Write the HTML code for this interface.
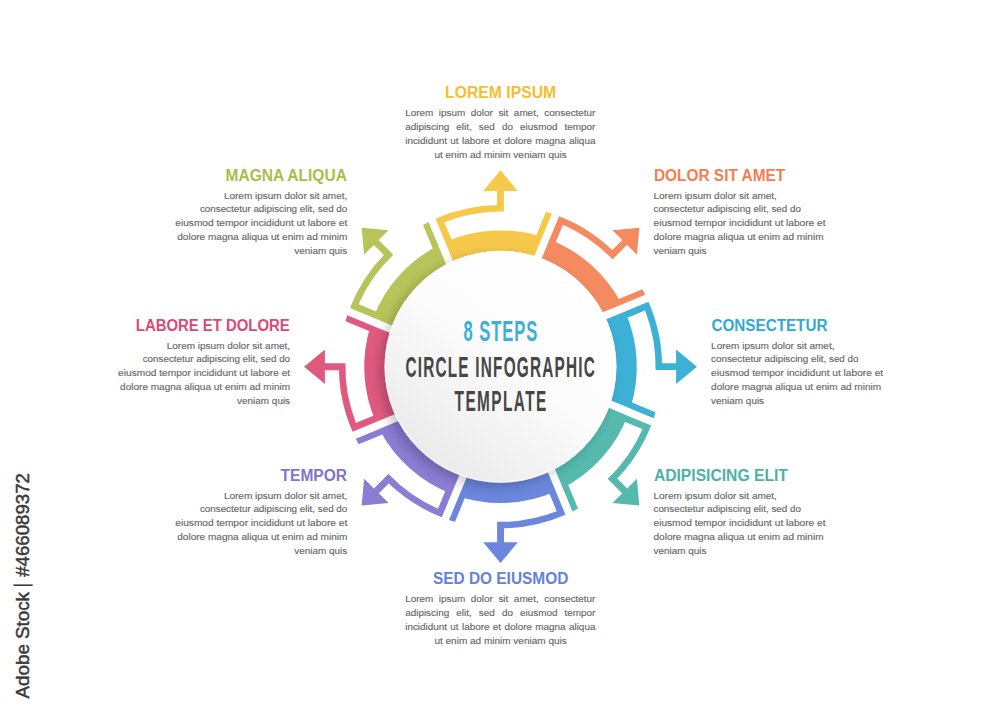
<!DOCTYPE html>
<html><head><meta charset="utf-8"><style>html,body{margin:0;padding:0;background:#fff;}svg{display:block;}text.b{fill:#676767;stroke:#676767;stroke-width:0.15px;}</style></head>
<body>
<svg width="1000" height="714" viewBox="0 0 1000 714" font-family="'Liberation Sans', sans-serif">
<defs>
<linearGradient id="dg" x1="0.8" y1="0.1" x2="0.2" y2="0.9">
<stop offset="0" stop-color="#ffffff"/><stop offset="0.45" stop-color="#fcfcfc"/><stop offset="1" stop-color="#ebebeb"/>
</linearGradient>
<filter id="sh" x="-30%" y="-30%" width="160%" height="160%">
<feGaussianBlur in="SourceAlpha" stdDeviation="6"/>
<feOffset dx="-5" dy="3.5" result="o"/>
<feComponentTransfer><feFuncA type="linear" slope="0.22"/></feComponentTransfer>
<feMerge><feMergeNode/><feMergeNode in="SourceGraphic"/></feMerge>
</filter>
</defs>
<rect width="1000" height="714" fill="#ffffff"/>
<path transform="rotate(0 500.5 366.7)" fill="#F6C94B" d="M445.22 242.12A136.3 136.3 0 0 1 542.23 236.95L531.36 263.2A108 108 0 0 0 456.05 268.27ZM445.98 243.96L435.53 218.74L443.92 221.22L452.26 241.36ZM535.48 237.04L546 211.64A161.6 161.6 0 0 1 551.94 213.51L541.46 238.8ZM435.53 218.74A161.6 161.6 0 0 1 503.9 205.14L503.9 211.64A155.1 155.1 0 0 0 444.3 222.14ZM497 206.1L497 190.6L503.9 190.6L503.9 211.1ZM483.2 191.1L500.5 170.3L517.8 191.1Z"/>
<path transform="rotate(45 500.5 366.7)" fill="#F48A60" d="M445.22 242.12A136.3 136.3 0 0 1 542.23 236.95L531.36 263.2A108 108 0 0 0 456.05 268.27ZM445.98 243.96L435.53 218.74L443.92 221.22L452.26 241.36ZM535.48 237.04L546 211.64A161.6 161.6 0 0 1 551.94 213.51L541.46 238.8ZM435.53 218.74A161.6 161.6 0 0 1 503.9 205.14L503.9 211.64A155.1 155.1 0 0 0 444.3 222.14ZM497 206.1L497 190.6L503.9 190.6L503.9 211.1ZM483.2 191.1L500.5 170.3L517.8 191.1Z"/>
<path transform="rotate(90 500.5 366.7)" fill="#3DB0D5" d="M445.22 242.12A136.3 136.3 0 0 1 542.23 236.95L531.36 263.2A108 108 0 0 0 456.05 268.27ZM445.98 243.96L435.53 218.74L443.92 221.22L452.26 241.36ZM535.48 237.04L546 211.64A161.6 161.6 0 0 1 551.94 213.51L541.46 238.8ZM435.53 218.74A161.6 161.6 0 0 1 503.9 205.14L503.9 211.64A155.1 155.1 0 0 0 444.3 222.14ZM497 206.1L497 190.6L503.9 190.6L503.9 211.1ZM483.2 191.1L500.5 170.3L517.8 191.1Z"/>
<path transform="rotate(135 500.5 366.7)" fill="#55B9AD" d="M445.22 242.12A136.3 136.3 0 0 1 542.23 236.95L531.36 263.2A108 108 0 0 0 456.05 268.27ZM445.98 243.96L435.53 218.74L443.92 221.22L452.26 241.36ZM535.48 237.04L546 211.64A161.6 161.6 0 0 1 551.94 213.51L541.46 238.8ZM435.53 218.74A161.6 161.6 0 0 1 503.9 205.14L503.9 211.64A155.1 155.1 0 0 0 444.3 222.14ZM497 206.1L497 190.6L503.9 190.6L503.9 211.1ZM483.2 191.1L500.5 170.3L517.8 191.1Z"/>
<path transform="rotate(180 500.5 366.7)" fill="#6B86DC" d="M445.22 242.12A136.3 136.3 0 0 1 542.23 236.95L531.36 263.2A108 108 0 0 0 456.05 268.27ZM445.98 243.96L435.53 218.74L443.92 221.22L452.26 241.36ZM535.48 237.04L546 211.64A161.6 161.6 0 0 1 551.94 213.51L541.46 238.8ZM435.53 218.74A161.6 161.6 0 0 1 503.9 205.14L503.9 211.64A155.1 155.1 0 0 0 444.3 222.14ZM497 206.1L497 190.6L503.9 190.6L503.9 211.1ZM483.2 191.1L500.5 170.3L517.8 191.1Z"/>
<path transform="rotate(225 500.5 366.7)" fill="#8A7DD5" d="M445.22 242.12A136.3 136.3 0 0 1 542.23 236.95L531.36 263.2A108 108 0 0 0 456.05 268.27ZM445.98 243.96L435.53 218.74L443.92 221.22L452.26 241.36ZM535.48 237.04L546 211.64A161.6 161.6 0 0 1 551.94 213.51L541.46 238.8ZM435.53 218.74A161.6 161.6 0 0 1 503.9 205.14L503.9 211.64A155.1 155.1 0 0 0 444.3 222.14ZM497 206.1L497 190.6L503.9 190.6L503.9 211.1ZM483.2 191.1L500.5 170.3L517.8 191.1Z"/>
<path transform="rotate(270 500.5 366.7)" fill="#E05A80" d="M445.22 242.12A136.3 136.3 0 0 1 542.23 236.95L531.36 263.2A108 108 0 0 0 456.05 268.27ZM445.98 243.96L435.53 218.74L443.92 221.22L452.26 241.36ZM535.48 237.04L546 211.64A161.6 161.6 0 0 1 551.94 213.51L541.46 238.8ZM435.53 218.74A161.6 161.6 0 0 1 503.9 205.14L503.9 211.64A155.1 155.1 0 0 0 444.3 222.14ZM497 206.1L497 190.6L503.9 190.6L503.9 211.1ZM483.2 191.1L500.5 170.3L517.8 191.1Z"/>
<path transform="rotate(315 500.5 366.7)" fill="#B8C45A" d="M445.22 242.12A136.3 136.3 0 0 1 542.23 236.95L531.36 263.2A108 108 0 0 0 456.05 268.27ZM445.98 243.96L435.53 218.74L443.92 221.22L452.26 241.36ZM535.48 237.04L546 211.64A161.6 161.6 0 0 1 551.94 213.51L541.46 238.8ZM435.53 218.74A161.6 161.6 0 0 1 503.9 205.14L503.9 211.64A155.1 155.1 0 0 0 444.3 222.14ZM497 206.1L497 190.6L503.9 190.6L503.9 211.1ZM483.2 191.1L500.5 170.3L517.8 191.1Z"/>
<circle cx="500.5" cy="366.7" r="116" fill="url(#dg)" filter="url(#sh)"/>
<circle cx="500.5" cy="366.7" r="115.3" fill="none" stroke="#ffffff" stroke-opacity="0.55" stroke-width="1"/>
<g transform="translate(463.6 0) scale(0.56 1)"><text x="0" y="341" textLength="131.43" lengthAdjust="spacing" font-size="29.5" font-weight="bold" fill="#3DB0D5">8 STEPS</text></g>
<g transform="translate(405.4 0) scale(0.535 1)"><text x="0" y="376.7" textLength="354.21" lengthAdjust="spacing" font-size="28.7" font-weight="bold" fill="#464646">CIRCLE INFOGRAPHIC</text></g>
<g transform="translate(454.6 0) scale(0.535 1)"><text x="0" y="411.4" textLength="171.21" lengthAdjust="spacing" font-size="28.7" font-weight="bold" fill="#464646">TEMPLATE</text></g>
<text x="445.05" y="97.8" textLength="111.1" lengthAdjust="spacingAndGlyphs" font-size="16" font-weight="bold" fill="#F3BE30">LOREM IPSUM</text>
<text x="405.2" y="115.7" textLength="28.06" lengthAdjust="spacingAndGlyphs" font-size="9.6" class="b">Lorem</text>
<text x="438.84" y="115.7" textLength="26.41" lengthAdjust="spacingAndGlyphs" font-size="9.6" class="b">ipsum</text>
<text x="470.82" y="115.7" textLength="22.01" lengthAdjust="spacingAndGlyphs" font-size="9.6" class="b">dolor</text>
<text x="498.41" y="115.7" textLength="9.9" lengthAdjust="spacingAndGlyphs" font-size="9.6" class="b">sit</text>
<text x="513.89" y="115.7" textLength="24.76" lengthAdjust="spacingAndGlyphs" font-size="9.6" class="b">amet,</text>
<text x="544.22" y="115.7" textLength="51.18" lengthAdjust="spacingAndGlyphs" font-size="9.6" class="b">consectetur</text>
<text x="405.2" y="129.67" textLength="44.03" lengthAdjust="spacingAndGlyphs" font-size="9.6" class="b">adipiscing</text>
<text x="456.34" y="129.67" textLength="15.41" lengthAdjust="spacingAndGlyphs" font-size="9.6" class="b">elit,</text>
<text x="478.86" y="129.67" textLength="15.96" lengthAdjust="spacingAndGlyphs" font-size="9.6" class="b">sed</text>
<text x="501.93" y="129.67" textLength="11.01" lengthAdjust="spacingAndGlyphs" font-size="9.6" class="b">do</text>
<text x="520.06" y="129.67" textLength="37.42" lengthAdjust="spacingAndGlyphs" font-size="9.6" class="b">eiusmod</text>
<text x="564.59" y="129.67" textLength="30.81" lengthAdjust="spacingAndGlyphs" font-size="9.6" class="b">tempor</text>
<text x="405.2" y="143.64" textLength="41.83" lengthAdjust="spacingAndGlyphs" font-size="9.6" class="b">incididunt</text>
<text x="450.38" y="143.64" textLength="8.26" lengthAdjust="spacingAndGlyphs" font-size="9.6" class="b">ut</text>
<text x="461.99" y="143.64" textLength="27.52" lengthAdjust="spacingAndGlyphs" font-size="9.6" class="b">labore</text>
<text x="492.87" y="143.64" textLength="8.26" lengthAdjust="spacingAndGlyphs" font-size="9.6" class="b">et</text>
<text x="504.48" y="143.64" textLength="27.52" lengthAdjust="spacingAndGlyphs" font-size="9.6" class="b">dolore</text>
<text x="535.35" y="143.64" textLength="30.27" lengthAdjust="spacingAndGlyphs" font-size="9.6" class="b">magna</text>
<text x="568.98" y="143.64" textLength="26.42" lengthAdjust="spacingAndGlyphs" font-size="9.6" class="b">aliqua</text>
<text x="434.45" y="157.61" textLength="132.3" lengthAdjust="spacingAndGlyphs" font-size="9.6" class="b">ut enim ad minim veniam quis</text>
<text x="432.9" y="584" textLength="135.4" lengthAdjust="spacingAndGlyphs" font-size="16" font-weight="bold" fill="#6481D9">SED DO EIUSMOD</text>
<text x="405.2" y="601.9" textLength="28.06" lengthAdjust="spacingAndGlyphs" font-size="9.6" class="b">Lorem</text>
<text x="438.84" y="601.9" textLength="26.41" lengthAdjust="spacingAndGlyphs" font-size="9.6" class="b">ipsum</text>
<text x="470.82" y="601.9" textLength="22.01" lengthAdjust="spacingAndGlyphs" font-size="9.6" class="b">dolor</text>
<text x="498.41" y="601.9" textLength="9.9" lengthAdjust="spacingAndGlyphs" font-size="9.6" class="b">sit</text>
<text x="513.89" y="601.9" textLength="24.76" lengthAdjust="spacingAndGlyphs" font-size="9.6" class="b">amet,</text>
<text x="544.22" y="601.9" textLength="51.18" lengthAdjust="spacingAndGlyphs" font-size="9.6" class="b">consectetur</text>
<text x="405.2" y="615.87" textLength="44.03" lengthAdjust="spacingAndGlyphs" font-size="9.6" class="b">adipiscing</text>
<text x="456.34" y="615.87" textLength="15.41" lengthAdjust="spacingAndGlyphs" font-size="9.6" class="b">elit,</text>
<text x="478.86" y="615.87" textLength="15.96" lengthAdjust="spacingAndGlyphs" font-size="9.6" class="b">sed</text>
<text x="501.93" y="615.87" textLength="11.01" lengthAdjust="spacingAndGlyphs" font-size="9.6" class="b">do</text>
<text x="520.06" y="615.87" textLength="37.42" lengthAdjust="spacingAndGlyphs" font-size="9.6" class="b">eiusmod</text>
<text x="564.59" y="615.87" textLength="30.81" lengthAdjust="spacingAndGlyphs" font-size="9.6" class="b">tempor</text>
<text x="405.2" y="629.84" textLength="41.83" lengthAdjust="spacingAndGlyphs" font-size="9.6" class="b">incididunt</text>
<text x="450.38" y="629.84" textLength="8.26" lengthAdjust="spacingAndGlyphs" font-size="9.6" class="b">ut</text>
<text x="461.99" y="629.84" textLength="27.52" lengthAdjust="spacingAndGlyphs" font-size="9.6" class="b">labore</text>
<text x="492.87" y="629.84" textLength="8.26" lengthAdjust="spacingAndGlyphs" font-size="9.6" class="b">et</text>
<text x="504.48" y="629.84" textLength="27.52" lengthAdjust="spacingAndGlyphs" font-size="9.6" class="b">dolore</text>
<text x="535.35" y="629.84" textLength="30.27" lengthAdjust="spacingAndGlyphs" font-size="9.6" class="b">magna</text>
<text x="568.98" y="629.84" textLength="26.42" lengthAdjust="spacingAndGlyphs" font-size="9.6" class="b">aliqua</text>
<text x="434.45" y="643.81" textLength="132.3" lengthAdjust="spacingAndGlyphs" font-size="9.6" class="b">ut enim ad minim veniam quis</text>
<text x="653.9" y="180.5" textLength="131.4" lengthAdjust="spacingAndGlyphs" font-size="16" font-weight="bold" fill="#F27E52">DOLOR SIT AMET</text>
<text x="653.5" y="198.5" textLength="123.4" lengthAdjust="spacingAndGlyphs" font-size="9.6" class="b">Lorem ipsum dolor sit amet,</text>
<text x="653.5" y="212.47" textLength="147.4" lengthAdjust="spacingAndGlyphs" font-size="9.6" class="b">consectetur adipiscing elit, sed do</text>
<text x="653.5" y="226.44" textLength="172" lengthAdjust="spacingAndGlyphs" font-size="9.6" class="b">eiusmod tempor incididunt ut labore et</text>
<text x="653.5" y="240.41" textLength="170" lengthAdjust="spacingAndGlyphs" font-size="9.6" class="b">dolore magna aliqua ut enim ad minim</text>
<text x="653.5" y="254.38" textLength="53" lengthAdjust="spacingAndGlyphs" font-size="9.6" class="b">veniam quis</text>
<text x="711.5" y="330.5" textLength="115.9" lengthAdjust="spacingAndGlyphs" font-size="16" font-weight="bold" fill="#33A8D4">CONSECTETUR</text>
<text x="711.1" y="348.5" textLength="123.4" lengthAdjust="spacingAndGlyphs" font-size="9.6" class="b">Lorem ipsum dolor sit amet,</text>
<text x="711.1" y="362.47" textLength="147.4" lengthAdjust="spacingAndGlyphs" font-size="9.6" class="b">consectetur adipiscing elit, sed do</text>
<text x="711.1" y="376.44" textLength="172" lengthAdjust="spacingAndGlyphs" font-size="9.6" class="b">eiusmod tempor incididunt ut labore et</text>
<text x="711.1" y="390.41" textLength="170" lengthAdjust="spacingAndGlyphs" font-size="9.6" class="b">dolore magna aliqua ut enim ad minim</text>
<text x="711.1" y="404.38" textLength="53" lengthAdjust="spacingAndGlyphs" font-size="9.6" class="b">veniam quis</text>
<text x="653.9" y="480.5" textLength="134" lengthAdjust="spacingAndGlyphs" font-size="16" font-weight="bold" fill="#4AB3A6">ADIPISICING ELIT</text>
<text x="653.5" y="498.5" textLength="123.4" lengthAdjust="spacingAndGlyphs" font-size="9.6" class="b">Lorem ipsum dolor sit amet,</text>
<text x="653.5" y="512.47" textLength="147.4" lengthAdjust="spacingAndGlyphs" font-size="9.6" class="b">consectetur adipiscing elit, sed do</text>
<text x="653.5" y="526.44" textLength="172" lengthAdjust="spacingAndGlyphs" font-size="9.6" class="b">eiusmod tempor incididunt ut labore et</text>
<text x="653.5" y="540.41" textLength="170" lengthAdjust="spacingAndGlyphs" font-size="9.6" class="b">dolore magna aliqua ut enim ad minim</text>
<text x="653.5" y="554.38" textLength="53" lengthAdjust="spacingAndGlyphs" font-size="9.6" class="b">veniam quis</text>
<text x="225.5" y="180.5" textLength="121.4" lengthAdjust="spacingAndGlyphs" font-size="16" font-weight="bold" fill="#ADBB48">MAGNA ALIQUA</text>
<text x="223.9" y="198.5" textLength="123.4" lengthAdjust="spacingAndGlyphs" font-size="9.6" class="b">Lorem ipsum dolor sit amet,</text>
<text x="199.9" y="212.47" textLength="147.4" lengthAdjust="spacingAndGlyphs" font-size="9.6" class="b">consectetur adipiscing elit, sed do</text>
<text x="175.3" y="226.44" textLength="172" lengthAdjust="spacingAndGlyphs" font-size="9.6" class="b">eiusmod tempor incididunt ut labore et</text>
<text x="177.3" y="240.41" textLength="170" lengthAdjust="spacingAndGlyphs" font-size="9.6" class="b">dolore magna aliqua ut enim ad minim</text>
<text x="294.3" y="254.38" textLength="53" lengthAdjust="spacingAndGlyphs" font-size="9.6" class="b">veniam quis</text>
<text x="135.8" y="330.5" textLength="153.9" lengthAdjust="spacingAndGlyphs" font-size="16" font-weight="bold" fill="#DB4A76">LABORE ET DOLORE</text>
<text x="166.7" y="348.5" textLength="123.4" lengthAdjust="spacingAndGlyphs" font-size="9.6" class="b">Lorem ipsum dolor sit amet,</text>
<text x="142.7" y="362.47" textLength="147.4" lengthAdjust="spacingAndGlyphs" font-size="9.6" class="b">consectetur adipiscing elit, sed do</text>
<text x="118.1" y="376.44" textLength="172" lengthAdjust="spacingAndGlyphs" font-size="9.6" class="b">eiusmod tempor incididunt ut labore et</text>
<text x="120.1" y="390.41" textLength="170" lengthAdjust="spacingAndGlyphs" font-size="9.6" class="b">dolore magna aliqua ut enim ad minim</text>
<text x="237.1" y="404.38" textLength="53" lengthAdjust="spacingAndGlyphs" font-size="9.6" class="b">veniam quis</text>
<text x="280.6" y="480.5" textLength="66.3" lengthAdjust="spacingAndGlyphs" font-size="16" font-weight="bold" fill="#8174CD">TEMPOR</text>
<text x="223.9" y="498.5" textLength="123.4" lengthAdjust="spacingAndGlyphs" font-size="9.6" class="b">Lorem ipsum dolor sit amet,</text>
<text x="199.9" y="512.47" textLength="147.4" lengthAdjust="spacingAndGlyphs" font-size="9.6" class="b">consectetur adipiscing elit, sed do</text>
<text x="175.3" y="526.44" textLength="172" lengthAdjust="spacingAndGlyphs" font-size="9.6" class="b">eiusmod tempor incididunt ut labore et</text>
<text x="177.3" y="540.41" textLength="170" lengthAdjust="spacingAndGlyphs" font-size="9.6" class="b">dolore magna aliqua ut enim ad minim</text>
<text x="294.3" y="554.38" textLength="53" lengthAdjust="spacingAndGlyphs" font-size="9.6" class="b">veniam quis</text>
<g transform="translate(28.6 698.6) rotate(-90)" font-size="18.5" fill="#3a3a3a" stroke="#3a3a3a" stroke-width="0.5">
<text x="0.2" y="0" textLength="106.4" lengthAdjust="spacingAndGlyphs">Adobe Stock</text>
<rect x="112.6" y="-15.2" width="1.6" height="19.3" stroke="none"/>
<text x="121.8" y="0" textLength="103.7" lengthAdjust="spacingAndGlyphs">#466089372</text>
</g>
</svg>
</body></html>
